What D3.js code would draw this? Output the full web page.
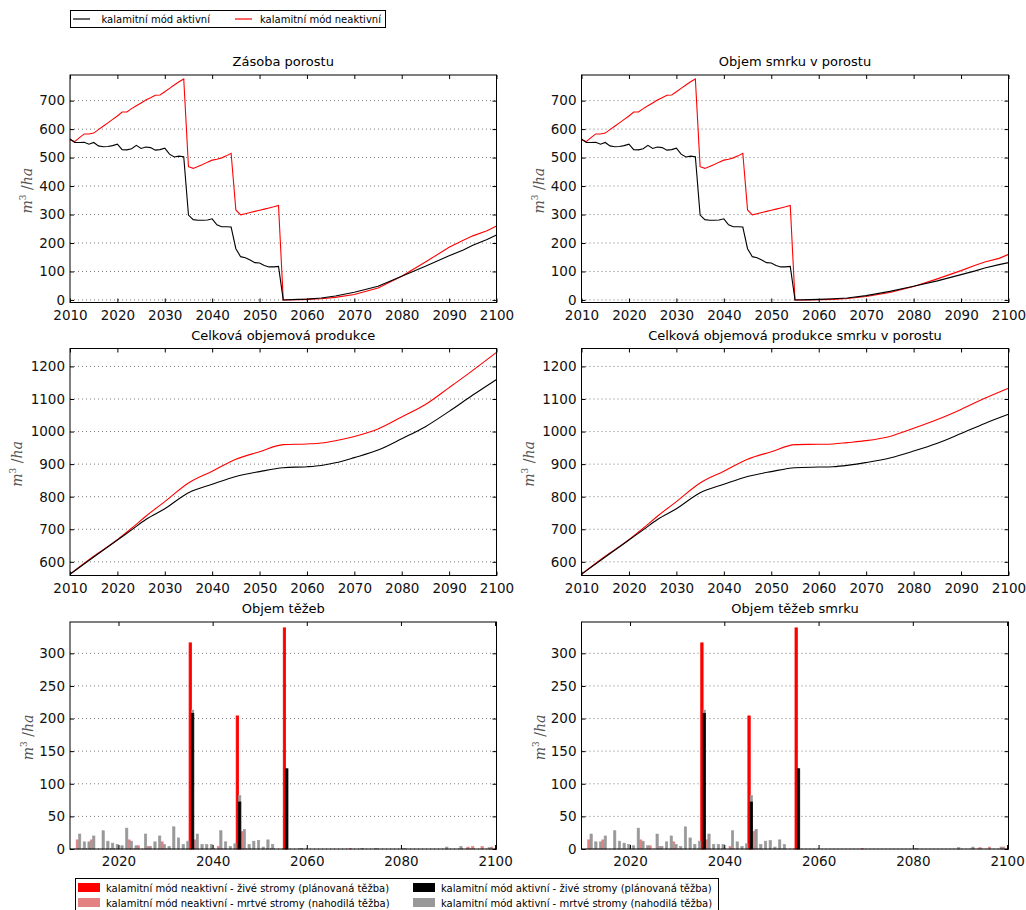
<!DOCTYPE html>
<html>
<head>
<meta charset="utf-8">
<script src="https://cdn.jsdelivr.net/npm/d3@7"></script>
<style>
body { margin: 0; background: #fff; }
text { font-family: "DejaVu Sans", sans-serif; }
</style>
</head>
<body>
<svg id="chart" width="1026" height="910"></svg>
<script>
// ---- data ----
const stockYears = [2010, 2011, 2012, 2013, 2014, 2015, 2016, 2017, 2018, 2019,
    2020, 2021, 2022, 2023, 2024, 2025, 2026, 2027, 2028, 2029,
    2030, 2031, 2032, 2033, 2034, 2035, 2036, 2037, 2038, 2039,
    2040, 2041, 2042, 2043, 2044, 2045, 2046, 2047, 2048, 2049,
    2050, 2051, 2052, 2053, 2054, 2055,
    2058, 2060, 2063, 2066, 2070, 2075, 2080, 2085, 2090, 2093, 2095, 2098, 2100];

// Zásoba porostu
const stockInactive = [563, 556, 570, 583, 583, 586, 598, 610, 622, 634,
    646, 660, 660, 672, 682, 692, 702, 710, 719, 720,
    731, 743, 755, 766, 776, 468, 462, 469, 476, 484,
    491, 494, 499, 506, 515, 316, 299, 303, 307, 311,
    315, 319, 323, 327, 332, 0,
    1, 2, 4, 9, 19, 42, 83, 133, 185, 210, 225, 243, 260];
const stockActive = [565, 553, 553, 554, 547, 553, 541, 538, 539, 542,
    547, 528, 527, 531, 543, 532, 537, 535, 526, 528,
    533, 512, 502, 505, 503, 298, 282, 280, 280, 281,
    285, 264, 257, 257, 256, 180, 152, 148, 140, 131,
    130, 121, 116, 116, 118, 0,
    2, 3, 7, 14, 27, 48, 83, 118, 155, 175, 192, 212, 228];

// Objem smrku v porostu
const spruceInactive = [563, 556, 570, 583, 583, 586, 598, 610, 622, 634,
    646, 660, 660, 672, 682, 692, 702, 710, 719, 720,
    731, 743, 755, 766, 776, 468, 462, 469, 476, 484,
    491, 494, 499, 506, 515, 316, 299, 303, 307, 311,
    315, 319, 323, 327, 332, 0,
    0, 1, 2, 5, 12, 26, 47, 74, 103, 122, 133, 146, 160];
const spruceActive = [565, 553, 553, 554, 547, 553, 541, 538, 539, 542,
    547, 528, 527, 531, 543, 532, 537, 535, 526, 528,
    533, 512, 502, 505, 503, 298, 282, 280, 280, 281,
    285, 264, 257, 257, 256, 180, 152, 148, 140, 131,
    130, 121, 116, 116, 118, 0,
    1, 2, 4, 7, 15, 30, 48, 67, 89, 102, 112, 124, 131];

const prodYears = [2010, 2015, 2020, 2023, 2026, 2030, 2035, 2040, 2045, 2050,
    2055, 2060, 2063, 2066, 2070, 2075, 2080, 2085, 2090, 2095, 2100];
// Celková objemová produkce
const prodInactive = [562, 617, 668, 703, 740, 785, 842, 878, 915, 938,
    960, 962, 965, 972, 985, 1008, 1045, 1083, 1135, 1188, 1243];
const prodActive = [562, 615, 667, 698, 730, 763, 812, 838, 862, 877,
    889, 892, 896, 904, 920, 943, 978, 1015, 1062, 1112, 1160];
// Celková objemová produkce smrku v porostu
const prodSpruceInactive = [562, 617, 668, 703, 740, 785, 842, 878, 915, 938,
    960, 961, 962, 966, 972, 985, 1010, 1037, 1068, 1102, 1133];
const prodSpruceActive = [562, 615, 667, 698, 730, 763, 812, 838, 862, 877,
    889, 891, 892, 896, 905, 919, 940, 964, 994, 1025, 1053];

// Objem těžeb: [year, m3/ha]
const liveInactive = [[2035, 316], [2045, 204], [2055, 339]];
const deadInactive = [[2011, 14], [2014, 14], [2022, 14], [2024, 5], [2026, 4], [2029, 11],
    [2036, 14], [2041, 4], [2046, 27], [2069, 1], [2094, 3], [2095, 4], [2097, 4], [2099, 3]];
const liveActive = [[2035, 208], [2045, 72], [2055, 123]];
const deadActive = [[2011, 23], [2012, 11], [2013, 11], [2014, 20], [2016, 28], [2017, 12],
    [2018, 9], [2019, 7], [2020, 5], [2021, 32], [2022, 12], [2023, 5], [2025, 23], [2026, 4],
    [2027, 11], [2028, 20], [2029, 7], [2030, 4], [2031, 34], [2032, 17], [2033, 7], [2034, 12],
    [2035, 5], [2036, 23], [2037, 7], [2038, 7], [2039, 7], [2041, 28], [2042, 11], [2043, 4],
    [2044, 8], [2045, 10], [2046, 30], [2047, 7], [2048, 12], [2049, 13], [2050, 3], [2051, 14],
    [2052, 7], [2058, 1], [2071, 1], [2074, 1], [2080, 1], [2089, 3], [2092, 4], [2098, 2]];
// Objem těžeb smrku
const liveInactiveSpruce = [[2035, 316], [2045, 204], [2055, 339]];
const deadInactiveSpruce = [[2011, 14], [2014, 14], [2022, 14], [2024, 5], [2026, 4], [2029, 11],
    [2036, 14], [2041, 4], [2046, 27], [2069, 1], [2094, 2], [2096, 3], [2099, 3]];
const liveActiveSpruce = [[2035, 208], [2045, 72], [2055, 123]];
const deadActiveSpruce = [[2011, 23], [2012, 11], [2013, 11], [2014, 20], [2016, 28], [2017, 12],
    [2018, 9], [2019, 7], [2020, 5], [2021, 32], [2022, 12], [2023, 5], [2025, 23], [2026, 4],
    [2027, 11], [2028, 20], [2029, 7], [2030, 4], [2031, 34], [2032, 17], [2033, 7], [2034, 12],
    [2035, 5], [2036, 23], [2037, 7], [2038, 7], [2039, 7], [2041, 28], [2042, 11], [2043, 4],
    [2044, 8], [2045, 10], [2046, 30], [2047, 7], [2048, 12], [2049, 13], [2050, 3], [2051, 14],
    [2052, 7], [2080, 1], [2089, 2], [2092, 3], [2098, 3]];

const lineTicksX = d3.range(2010, 2101, 10);
const barTicksX = [2020, 2040, 2060, 2080, 2100];

const legendTop = ['kalamitní mód aktivní', 'kalamitní mód neaktivní'];
const legendBottom = [
    'kalamitní mód neaktivní - živé stromy (plánovaná těžba)',
    'kalamitní mód neaktivní - mrtvé stromy (nahodilá těžba)',
    'kalamitní mód aktivní - živé stromy (plánovaná těžba)',
    'kalamitní mód aktivní - mrtvé stromy (nahodilá těžba)'
];

// ---- layout ----
const COLS = [{left: 70, right: 496.5}, {left: 581.5, right: 1008.5}];
const ROWS = [{top: 75, bottom: 302.5}, {top: 348.5, bottom: 575.5}, {top: 622, bottom: 849}];
const RED = '#ff0000', PINK = '#e48282', BLACK = '#000000', GREY = '#999999';

const svg = d3.select('#chart');

function makePanel(col, row, xDomain, yDomain) {
    const c = COLS[col], r = ROWS[row];
    const g = svg.append('g');
    const x = d3.scaleLinear().domain(xDomain).range([c.left, c.right]);
    const y = d3.scaleLinear().domain(yDomain).range([r.bottom, r.top]);
    return {g, x, y, c, r};
}

function drawGrid(p, yTicks) {
    p.g.append('g').selectAll('line')
        .data(yTicks)
        .join('line')
        .attr('x1', p.c.left).attr('x2', p.c.right)
        .attr('y1', d => p.y(d)).attr('y2', d => p.y(d))
        .attr('stroke', '#444')
        .attr('stroke-width', 0.7)
        .attr('stroke-dasharray', '1,3');
}

function drawFrame(p, xTicks, yTicks, title, labelOffset) {
    const tick = 4;
    const fmt = d3.format('d');

    const xAxis = d3.axisBottom(p.x).tickValues(xTicks).tickFormat(fmt)
        .tickSizeInner(-tick).tickSizeOuter(0).tickPadding(5);
    const yAxis = d3.axisLeft(p.y).tickValues(yTicks).tickFormat(fmt)
        .tickSizeInner(-tick).tickSizeOuter(0).tickPadding(5);

    const gx = p.g.append('g').attr('transform', `translate(0,${p.r.bottom})`).call(xAxis);
    const gy = p.g.append('g').attr('transform', `translate(${p.c.left},0)`).call(yAxis);
    // mirrored ticks on top and right
    p.g.append('g').attr('transform', `translate(0,${p.r.top})`)
        .call(d3.axisTop(p.x).tickValues(xTicks).tickFormat('').tickSizeInner(-tick).tickSizeOuter(0));
    p.g.append('g').attr('transform', `translate(${p.c.right},0)`)
        .call(d3.axisRight(p.y).tickValues(yTicks).tickFormat('').tickSizeInner(-tick).tickSizeOuter(0));

    p.g.selectAll('.domain').remove();
    p.g.selectAll('.tick line').attr('stroke', '#000');
    [gx, gy].forEach(a => a.selectAll('text')
        .style('font-family', '"DejaVu Sans", sans-serif')
        .style('font-size', '13.5px')
        .attr('fill', '#111'));
    gx.selectAll('text').attr('dy', '0.9em');

    p.g.append('rect')
        .attr('x', p.c.left).attr('y', p.r.top)
        .attr('width', p.c.right - p.c.left).attr('height', p.r.bottom - p.r.top)
        .attr('fill', 'none').attr('stroke', '#000').attr('stroke-width', 1);

    p.g.append('text')
        .attr('x', (p.c.left + p.c.right) / 2)
        .attr('y', p.r.top - 9)
        .attr('text-anchor', 'middle')
        .style('font-size', '13px')
        .text(title);

    // y label  m^3 /ha
    const lab = p.g.append('text')
        .attr('transform', `translate(${p.c.left + labelOffset},${(p.r.top + p.r.bottom) / 2 + 2}) rotate(-90)`)
        .attr('text-anchor', 'middle')
        .attr('fill', '#555')
        .style('font-family', '"DejaVu Serif", serif')
        .style('font-style', 'italic')
        .style('font-size', '14px');
    lab.append('tspan').text('m');
    lab.append('tspan').attr('dy', -6).style('font-size', '9px').style('font-style', 'normal').text('3');
    lab.append('tspan').attr('dy', 6).style('font-style', 'normal').text(' /');
    lab.append('tspan').text('ha');
}

function drawLines(p, years, series, curve) {
    const line = d3.line()
        .curve(curve || d3.curveLinear)
        .x(d => p.x(d[0]))
        .y(d => p.y(d[1]));
    series.forEach(s => {
        p.g.append('path')
            .datum(years.map((yr, i) => [yr, s.values[i]]))
            .attr('d', line)
            .attr('fill', 'none')
            .attr('stroke', s.color)
            .attr('stroke-width', 1.1);
    });
}

function drawBars(p, live, dead, offset, liveColor, deadColor) {
    const w = 0.5;
    const liveMap = new Map(live);
    const bw = p.x(2000 + w) - p.x(2000);
    p.g.append('g').selectAll('rect')
        .data(dead)
        .join('rect')
        .attr('x', d => p.x(d[0] + offset))
        .attr('width', bw)
        .attr('y', d => p.y((liveMap.get(d[0]) || 0) + d[1]))
        .attr('height', d => p.y(liveMap.get(d[0]) || 0) - p.y((liveMap.get(d[0]) || 0) + d[1]))
        .attr('fill', deadColor).attr('stroke', deadColor).attr('stroke-width', 0.6);
    p.g.append('g').selectAll('rect')
        .data(live)
        .join('rect')
        .attr('x', d => p.x(d[0] + offset))
        .attr('width', bw)
        .attr('y', d => p.y(d[1]))
        .attr('height', d => p.y(0) - p.y(d[1]))
        .attr('fill', liveColor).attr('stroke', liveColor).attr('stroke-width', 0.8);
}

// ---- row 1: stock ----
const stockYTicks = d3.range(0, 701, 100);
[[0, 'Zásoba porostu', stockInactive, stockActive],
 [1, 'Objem smrku v porostu', spruceInactive, spruceActive]].forEach(([col, title, inact, act]) => {
    const p = makePanel(col, 0, [2010, 2100], [-9, 790]);
    drawGrid(p, stockYTicks);
    drawLines(p, stockYears, [{values: inact, color: RED}, {values: act, color: BLACK}]);
    drawFrame(p, lineTicksX, stockYTicks, title, -38);
});

// ---- row 2: production ----
const prodYTicks = d3.range(600, 1201, 100);
[[0, 'Celková objemová produkce', prodInactive, prodActive],
 [1, 'Celková objemová produkce smrku v porostu', prodSpruceInactive, prodSpruceActive]].forEach(([col, title, inact, act]) => {
    const p = makePanel(col, 1, [2010, 2100], [558, 1255]);
    drawGrid(p, prodYTicks);
    drawLines(p, prodYears, [{values: inact, color: RED}, {values: act, color: BLACK}], d3.curveMonotoneX);
    drawFrame(p, lineTicksX, prodYTicks, title, -48);
});

// ---- row 3: harvest bars ----
const barYTicks = d3.range(0, 301, 50);
[[0, 'Objem těžeb', liveInactive, deadInactive, liveActive, deadActive],
 [1, 'Objem těžeb smrku', liveInactiveSpruce, deadInactiveSpruce, liveActiveSpruce, deadActiveSpruce]]
    .forEach(([col, title, li, di, la, da]) => {
        const p = makePanel(col, 2, [2009.7, 2100.3], [0, 348]);
        drawGrid(p, barYTicks);
        drawBars(p, li, di, 0, RED, PINK);
        drawBars(p, la, da, 0.5, BLACK, GREY);
        drawFrame(p, barTicksX, barYTicks, title, -37);
    });

// ---- legends ----
const lt = svg.append('g');
lt.append('rect').attr('x', 70.5).attr('y', 10.5).attr('width', 315).attr('height', 17)
    .attr('fill', '#fff').attr('stroke', '#000');
[[BLACK, 73, 101.5], [RED, 235, 260]].forEach(([color, lx, tx], i) => {
    lt.append('line').attr('x1', lx).attr('x2', lx + 17).attr('y1', 19).attr('y2', 19)
        .attr('stroke', color).attr('stroke-width', 1.2);
    lt.append('text').attr('x', tx).attr('y', 22.5).style('font-size', '10px').text(legendTop[i]);
});

const lb = svg.append('g');
lb.append('rect').attr('x', 75.5).attr('y', 878.5).attr('width', 643).attr('height', 40)
    .attr('fill', '#fff').attr('stroke', '#000');
const swatches = [RED, PINK, BLACK, GREY];
legendBottom.forEach((label, i) => {
    const cx = i < 2 ? 78 : 413;
    const cy = i % 2 === 0 ? 883 : 898;
    lb.append('rect').attr('x', cx).attr('y', cy).attr('width', 22).attr('height', 9).attr('fill', swatches[i]);
    lb.append('text').attr('x', cx + 28).attr('y', cy + 8.5).style('font-size', '10px').text(label);
});
</script>
</body>
</html>
